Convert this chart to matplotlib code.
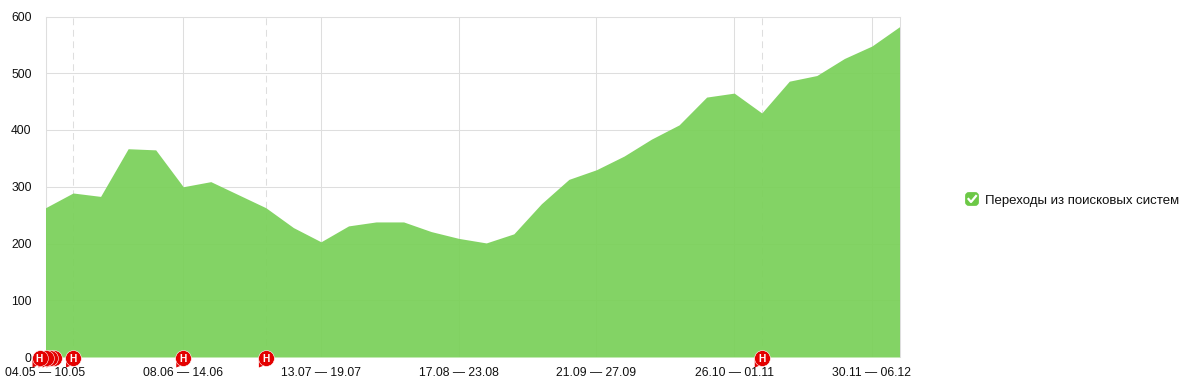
#!/usr/bin/env python
import matplotlib
matplotlib.use('Agg')
import matplotlib.pyplot as plt
from matplotlib.patches import FancyBboxPatch, Polygon
from matplotlib.transforms import IdentityTransform, ScaledTranslation

plt.rcParams['font.family'] = ['Liberation Sans', 'DejaVu Sans']

W, H = 1189, 392

visits = [263, 289, 283, 367, 365, 300, 309, 286, 263, 228, 203, 231, 238, 238, 221, 209,
          201, 217, 270, 313, 330, 354, 384, 409, 458, 465, 430, 486, 496, 526, 548, 582]
week_ticks = [0, 5, 10, 15, 20, 25, 30]
week_labels = ['04.05 — 10.05', '08.06 — 14.06', '13.07 — 19.07', '17.08 — 23.08',
               '21.09 — 27.09', '26.10 — 01.11', '30.11 — 06.12']
y_ticks = [0, 100, 200, 300, 400, 500, 600]
note_weeks = [1, 5, 8, 26]
note_lines = [1, 8, 26]   # dashed verticals
stack_offsets = [8, 4, 0]   # flags hidden behind the top one on the first week, px
top_offset = -6
series_name = 'Переходы из поисковых систем'

GRID = '#dedede'
RED = '#e30000'

fig = plt.figure(figsize=(W / 100, H / 100), dpi=100)
ax = fig.add_axes([45.5 / W, 1 - 357 / H, 854 / W, 340.5 / H])
ax.set_xlim(0, len(visits) - 1)
ax.set_ylim(0, 600)

ax.fill_between(range(len(visits)), visits, 0, color='#7ad059', alpha=0.93, lw=0, zorder=3)

ax.set_yticks(y_ticks)
ax.set_xticks(week_ticks)
ax.set_xticklabels(week_labels)
ax.tick_params(axis='both', length=0, labelsize=8.7, colors='#111111')
ax.tick_params(axis='y', pad=10)
ax.tick_params(axis='x', pad=7.5)
ax.grid(True, color=GRID, lw=0.75, zorder=1)
for week in note_lines:
    ax.axvline(week, color=GRID, lw=0.75, dashes=(6.5, 4.5), zorder=1)
for name in ['top', 'left', 'right']:
    ax.spines[name].set_color(GRID)
    ax.spines[name].set_linewidth(0.75)
ax.spines['bottom'].set_visible(False)


def flag(week, dx=0, dy=-1, z=10, label=True):
    # one red note bubble, dx and dy are pixels from the bottom of the week's line
    shift = ax.transData + ScaledTranslation(dx / 100, dy / 100, fig.dpi_scale_trans)
    x0, y0 = shift.transform((week, 0))
    tail = [(x0 - 7, y0 - 2), (x0 - 7, y0 - 9.5), (x0 + 2, y0 - 6)]
    ax.add_patch(Polygon(tail, transform=IdentityTransform(), color=RED, lw=0,
                         clip_on=False, zorder=z))
    ax.plot([week], [0], 'o', ms=11.4, mfc=RED, mec='white', mew=0.4, transform=shift,
            clip_on=False, zorder=z)
    if label:
        ax.annotate('Н', (week, 0), xycoords=shift, xytext=(0, -1),
                    textcoords='offset pixels', color='white', fontsize=7.4,
                    fontweight='bold', ha='center', va='center', zorder=z + 0.5,
                    annotation_clip=False)


for i, offset in enumerate(stack_offsets):
    flag(0, dx=offset, z=10 + i, label=False)
flag(0, dx=top_offset, z=14)
for week in note_weeks:
    flag(week, z=15)

# legend on the right
box = FancyBboxPatch((966.5 / W, 1 - 204.5 / H), 11 / W, 11 / H,
                     boxstyle='round,pad=0,rounding_size=0.002', transform=fig.transFigure,
                     fc='#6cc846', ec='#6cc846', lw=2, mutation_aspect=3)
fig.add_artist(box)
fig.add_artist(plt.Line2D([968.5 / W, 971 / W, 976 / W],
                          [1 - 199 / H, 1 - 202 / H, 1 - 196 / H],
                          color='white', lw=1.6))
fig.text(985 / W, 1 - 200.5 / H, series_name, fontsize=9.54, color='#111111', va='center')

fig.savefig('out.png', dpi=100)
